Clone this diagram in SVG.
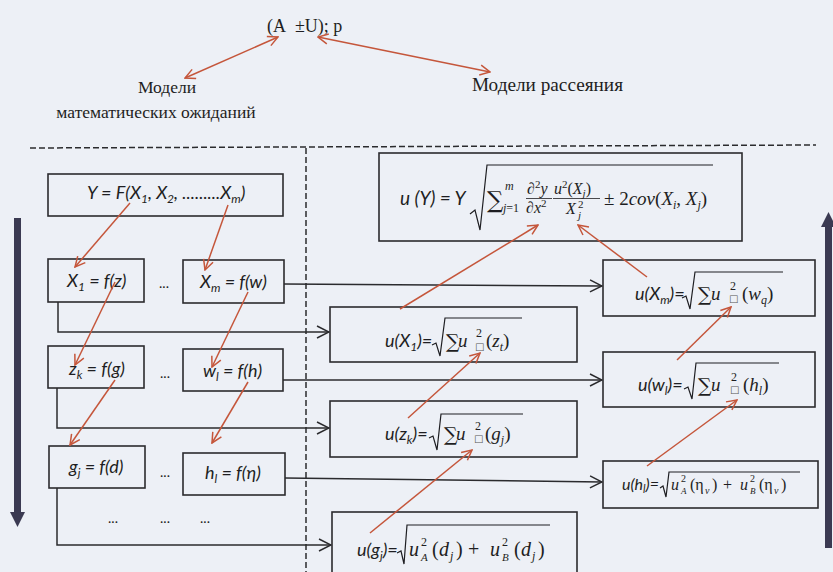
<svg xmlns="http://www.w3.org/2000/svg" width="833" height="572" viewBox="0 0 833 572">
<style>
.bx{fill:none;stroke:#2b2b2e;stroke-width:1.6}
.cn{fill:none;stroke:#2b2b2e;stroke-width:1.5;marker-end:url(#oa)}
.rd{fill:none;stroke:#c5563b;stroke-width:1.5;marker-end:url(#ra)}
.rd2{marker-start:url(#ra)}
.t{font-family:Lato,"Liberation Sans",sans-serif;font-style:italic;fill:#1e1e22}
.s{font-size:12px}
.m{font-family:"Liberation Serif",serif;font-style:italic;fill:#1e1e22}
.n{font-style:normal}
.mu{font-family:"DejaVu Serif",serif;fill:#1e1e22}
.ru{font-family:"Liberation Serif",serif;fill:#1e1e22}
.rad{fill:none;stroke:#1e1e22;stroke-width:1.2}
.fr{stroke:#1e1e22;stroke-width:0.8}
.dash{fill:none;stroke:#2b2b2e;stroke-width:1.5;stroke-dasharray:6 3}
.sq{font-family:"DejaVu Sans",sans-serif;fill:#555}
.dots{font-family:Lato,"Liberation Sans",sans-serif;fill:#1e1e22}
.thick{stroke:#3b3a52;stroke-width:7;fill:none}
</style>
<defs>
<marker id="oa" viewBox="0 0 14 14" refX="13" refY="7" markerWidth="14" markerHeight="14" markerUnits="userSpaceOnUse" orient="auto"><path d="M1,1 L13,7 L1,13" fill="none" stroke="#2b2b2e" stroke-width="1.5"/></marker>
<marker id="ra" viewBox="0 0 12 12" refX="11" refY="6" markerWidth="12" markerHeight="12" markerUnits="userSpaceOnUse" orient="auto-start-reverse"><path d="M1,1 L11,6 L1,11" fill="none" stroke="#c5563b" stroke-width="1.5"/></marker>
</defs>
<rect width="833" height="572" fill="#edf0f6"/>

<g id="frame">
<path class="dash" d="M30,148 L816,145"/>
<path class="dash" d="M306,148 V572"/>
<path class="thick" d="M17.5,218 V514"/>
<polygon points="10,512 25,512 17.5,527" fill="#3b3a52"/>
<path class="thick" d="M828.5,225 V548"/>
<polygon points="821,227 836,227 828.5,212" fill="#3b3a52"/>
</g>

<g id="n-result"><text x="267" y="32" class="ru" font-size="18">(A&#160; ±U); p</text></g>
<g id="n-mean-label">
<text x="167" y="93" class="ru" font-size="17.5" text-anchor="middle">Модели</text>
<text x="156" y="118" class="ru" font-size="17.5" text-anchor="middle">математических ожиданий</text>
</g>
<g id="n-disp-label"><text x="472" y="91" class="ru" font-size="18" textLength="151" lengthAdjust="spacingAndGlyphs">Модели рассеяния</text></g>

<g class="t" font-size="18">
<g id="n-Y">
<rect class="bx" x="48" y="174" width="235" height="42"/>
<text x="87" y="199">Y = F(X<tspan class="s" dy="4">1</tspan><tspan dy="-4">, X</tspan><tspan class="s" dy="4">2</tspan><tspan dy="-4">, .........X</tspan><tspan class="s" dy="4">m</tspan><tspan dy="-4">)</tspan></text>
</g>
<g id="n-X1">
<rect class="bx" x="48" y="259" width="96" height="43"/>
<text x="67" y="287">X<tspan class="s" dy="4">1</tspan><tspan dy="-4"> = f(z)</tspan></text>
</g>
<g id="n-Xm">
<rect class="bx" x="183" y="260" width="101" height="43"/>
<text x="200" y="288">X<tspan class="s" dy="4">m</tspan><tspan dy="-4"> = f(w)</tspan></text>
</g>
<g id="n-zk">
<rect class="bx" x="48" y="346" width="96" height="42"/>
<text x="69" y="375">z<tspan class="s" dy="4">k</tspan><tspan dy="-4"> = f(g)</tspan></text>
</g>
<g id="n-wl">
<rect class="bx" x="183" y="349" width="100" height="42"/>
<text x="203" y="377">w<tspan class="s" dy="4">l</tspan><tspan dy="-4"> = f(h)</tspan></text>
</g>
<g id="n-gj">
<rect class="bx" x="49" y="446" width="96" height="42"/>
<text x="69" y="473">g<tspan class="s" dy="4">j</tspan><tspan dy="-4"> = f(d)</tspan></text>
</g>
<g id="n-hl">
<rect class="bx" x="183" y="453" width="102" height="42"/>
<text x="205" y="479">h<tspan class="s" dy="4">l</tspan><tspan dy="-4"> = f(η)</tspan></text>
</g>
</g>
<g id="n-dots" class="dots" font-size="14" text-anchor="middle">
<text x="164" y="288">...</text>
<text x="165" y="378">...</text>
<text x="165" y="477">...</text>
<text x="113" y="523">...</text>
<text x="165" y="523">...</text>
<text x="205" y="523">...</text>
</g>

<g id="n-uY">
<rect class="bx" x="379" y="153" width="363" height="88"/>
<text class="t" x="400" y="205" font-size="19">u (Y) = Y</text>
<path class="rad" d="M470,214 L475,210 L480,230 L487,165 H713"/>
<text class="mu" x="487" y="208" font-size="23">∑</text>
<text class="m" x="505" y="190" font-size="12">m</text>
<text class="m" x="503" y="212" font-size="12">j<tspan class="n">=1</tspan></text>
<text class="m" x="527" y="194" font-size="16"><tspan class="n">∂</tspan><tspan dy="-6" font-size="11" class="n">2</tspan><tspan dy="6">y</tspan></text>
<line class="fr" x1="526" y1="198.5" x2="552" y2="198.5"/>
<text class="m" x="526" y="213" font-size="16"><tspan class="n">∂</tspan>x<tspan dy="-6" font-size="11" class="n">2</tspan></text>
<text class="m" x="554" y="194" font-size="16">u<tspan dy="-6" font-size="11" class="n">2</tspan><tspan dy="6" class="n">(</tspan>X<tspan dy="3" font-size="11">j</tspan><tspan dy="-3" class="n">)</tspan></text>
<line class="fr" x1="553" y1="198.5" x2="600" y2="198.5"/>
<text class="m" x="566" y="214" font-size="16">X</text>
<text class="m n" x="578" y="208" font-size="11">2</text>
<text class="m" x="578" y="219" font-size="11">j</text>
<text class="m" x="604" y="205" font-size="19"><tspan class="n">± 2</tspan>cov<tspan class="n">(</tspan>X<tspan class="s" dy="4">i</tspan><tspan dy="-4" class="n">, </tspan>X<tspan class="s" dy="4">j</tspan><tspan dy="-4" class="n">)</tspan></text>
</g>

<g id="n-uXm">
<rect class="bx" x="603" y="260" width="212" height="56"/>
<text class="t" x="635" y="300" font-size="18">u(X<tspan class="s" dy="4">m</tspan><tspan dy="-4">)=</tspan></text>
<path class="rad" d="M682,298 L686,296 L690,309 L695,272 H783"/>
<text class="mu" x="698" y="301" font-size="19">∑</text>
<text class="m" x="711" y="300" font-size="19">u</text>
<text class="m n" x="730" y="290" font-size="12">2</text>
<text class="sq" x="729" y="302" font-size="10">□</text>
<text class="m" x="742" y="300" font-size="19"><tspan class="n">(</tspan>w<tspan class="s" dy="4">q</tspan><tspan dy="-4" class="n">)</tspan></text>
</g>

<g id="n-uX1">
<rect class="bx" x="330" y="307" width="247" height="55"/>
<text class="t" x="385" y="347" font-size="18">u(X<tspan class="s" dy="4">1</tspan><tspan dy="-4">)=</tspan></text>
<path class="rad" d="M432,345 L436,343 L440,356 L445,318 H522"/>
<text class="mu" x="446" y="348" font-size="19">∑</text>
<text class="m" x="458" y="347" font-size="19">u</text>
<text class="m n" x="476" y="337" font-size="12">2</text>
<text class="sq" x="475" y="350" font-size="10">□</text>
<text class="m" x="486" y="347" font-size="19"><tspan class="n">(</tspan>z<tspan class="s" dy="4">t</tspan><tspan dy="-4" class="n">)</tspan></text>
</g>

<g id="n-uwl">
<rect class="bx" x="603" y="352" width="212" height="55"/>
<text class="t" x="638" y="391" font-size="18">u(w<tspan class="s" dy="4">l</tspan><tspan dy="-4">)=</tspan></text>
<path class="rad" d="M684,389 L688,387 L692,399 L696,363 H779"/>
<text class="mu" x="698" y="392" font-size="19">∑</text>
<text class="m" x="711" y="391" font-size="19">u</text>
<text class="m n" x="731" y="381" font-size="12">2</text>
<text class="sq" x="730" y="393" font-size="10">□</text>
<text class="m" x="743" y="391" font-size="19"><tspan class="n">(</tspan>h<tspan class="s" dy="4">l</tspan><tspan dy="-4" class="n">)</tspan></text>
</g>

<g id="n-uzk">
<rect class="bx" x="330" y="401" width="247" height="56"/>
<text class="t" x="385" y="440" font-size="18">u(z<tspan class="s" dy="4">k</tspan><tspan dy="-4">)=</tspan></text>
<path class="rad" d="M429,438 L433,436 L437,450 L441,414 H523"/>
<text class="mu" x="444" y="441" font-size="19">∑</text>
<text class="m" x="456" y="440" font-size="19">u</text>
<text class="m n" x="475" y="430" font-size="12">2</text>
<text class="sq" x="474" y="442" font-size="10">□</text>
<text class="m" x="485" y="440" font-size="19"><tspan class="n">(</tspan>g<tspan class="s" dy="4">j</tspan><tspan dy="-4" class="n">)</tspan></text>
</g>

<g id="n-uhl">
<rect class="bx" x="603" y="461" width="215" height="47"/>
<text class="t" x="622" y="490" font-size="16">u(h<tspan font-size="11" dy="3">l</tspan><tspan dy="-3">)=</tspan></text>
<path class="rad" d="M660,488 L663,486 L666,497 L669,472 H800"/>
<g class="m" font-size="16">
<text x="671" y="490">u</text>
<text x="681" y="482" font-size="10" font-style="normal">2</text>
<text x="681" y="494" font-size="9">A</text>
<text x="690" y="490" font-style="normal">(η</text>
<text x="705" y="494" font-size="10">v</text>
<text x="712" y="490" font-style="normal">)</text>
<text x="723" y="490" font-style="normal">+</text>
<text x="740" y="490">u</text>
<text x="750" y="482" font-size="10" font-style="normal">2</text>
<text x="750" y="494" font-size="9">B</text>
<text x="759" y="490" font-style="normal">(η</text>
<text x="774" y="494" font-size="10">v</text>
<text x="781" y="490" font-style="normal">)</text>
</g>
</g>

<g id="n-ugj">
<rect class="bx" x="332" y="512" width="245" height="70"/>
<text class="t" x="357" y="556" font-size="18">u(g<tspan class="s" dy="4">j</tspan><tspan dy="-4">)=</tspan></text>
<path class="rad" d="M397,553 L401,551 L404,564 L407,525 H550"/>
<g class="m" font-size="20">
<text x="409" y="556">u</text>
<text x="421" y="546" font-size="12" font-style="normal">2</text>
<text x="421" y="561" font-size="11">A</text>
<text x="432" y="556" font-style="normal">(</text>
<text x="439" y="556">d</text>
<text x="450" y="560" font-size="12">j</text>
<text x="456" y="556" font-style="normal">)</text>
<text x="468" y="556" font-style="normal">+</text>
<text x="490" y="556">u</text>
<text x="502" y="546" font-size="12" font-style="normal">2</text>
<text x="502" y="561" font-size="11">B</text>
<text x="514" y="556" font-style="normal">(</text>
<text x="521" y="556">d</text>
<text x="532" y="560" font-size="12">j</text>
<text x="538" y="556" font-style="normal">)</text>
</g>
</g>

<g id="connectors">
<path class="cn" d="M284,284 L602,286"/>
<path class="cn" d="M58,302 V332 H329"/>
<path class="cn" d="M283,380 H602"/>
<path class="cn" d="M57,388 V428 H329"/>
<path class="cn" d="M285,478 L602,482"/>
<path class="cn" d="M57,488 V545 H331"/>
<path class="rd rd2" d="M185,78 L278,37"/>
<path class="rd rd2" d="M490,72 L318,37"/>
<path class="rd" d="M130,203 L75,267"/>
<path class="rd" d="M228,205 L205,270"/>
<path class="rd" d="M115,282 L75,365"/>
<path class="rd" d="M248,292 L212,367"/>
<path class="rd" d="M115,380 L70,445"/>
<path class="rd" d="M248,382 L212,443"/>
<path class="rd" d="M400,309 L538,225"/>
<path class="rd" d="M647,277 L578,225"/>
<path class="rd" d="M408,418 L480,353"/>
<path class="rd" d="M677,360 L731,307"/>
<path class="rd" d="M370,533 L472,450"/>
<path class="rd" d="M647,466 L737,400"/>
</g>
</svg>
